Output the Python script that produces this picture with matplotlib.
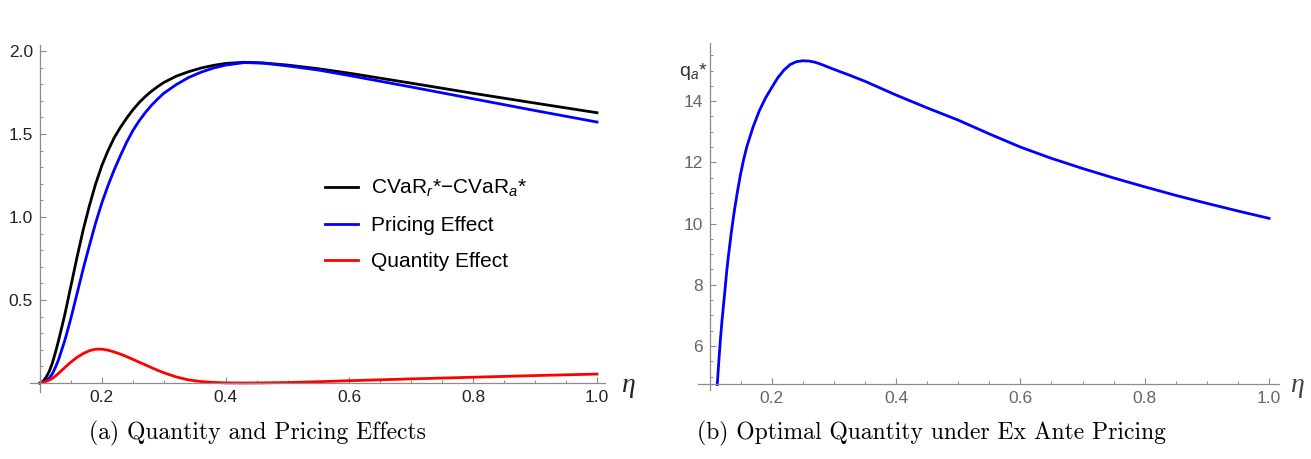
import matplotlib
matplotlib.use("Agg")
import matplotlib.pyplot as plt
from matplotlib.ticker import MultipleLocator, FixedLocator
from matplotlib.lines import Line2D

# ---------------- data ----------------
eta_a = [0.10, 0.105, 0.11, 0.115, 0.12, 0.125, 0.13, 0.14, 0.15, 0.16, 0.17, 0.18, 0.19,
         0.20, 0.21, 0.22, 0.23, 0.24, 0.25, 0.26, 0.27, 0.28, 0.29, 0.30, 0.32, 0.34,
         0.36, 0.38, 0.40, 0.43, 0.46, 0.50, 0.55, 0.60, 0.70, 0.80, 0.90, 1.00]
cvar_diff = [0.0, 0.01, 0.035, 0.07, 0.12, 0.185, 0.255, 0.41, 0.585, 0.76, 0.925, 1.07, 1.2,
             1.31, 1.40, 1.478, 1.54, 1.595, 1.645, 1.688, 1.725, 1.757, 1.785, 1.81, 1.848, 1.875,
             1.897, 1.913, 1.925, 1.932, 1.928, 1.915, 1.893, 1.866, 1.806, 1.745, 1.686, 1.628]
pricing_effect = [0.0, 0.005, 0.015, 0.03, 0.055, 0.095, 0.14, 0.255, 0.39, 0.54, 0.69, 0.83, 0.965,
                  1.085, 1.19, 1.285, 1.37, 1.45, 1.52, 1.578, 1.628, 1.672, 1.71, 1.745, 1.797, 1.84,
                  1.872, 1.897, 1.915, 1.93, 1.927, 1.91, 1.885, 1.852, 1.783, 1.712, 1.641, 1.572]
quantity_effect = [0.0, 0.004, 0.01, 0.018, 0.028, 0.042, 0.058, 0.093, 0.126, 0.155, 0.178, 0.195, 0.204,
                   0.204, 0.198, 0.187, 0.174, 0.159, 0.143, 0.126, 0.11, 0.093, 0.077, 0.062, 0.037, 0.019,
                   0.009, 0.004, 0.001, 0.0, 0.001, 0.003, 0.008, 0.014, 0.025, 0.035, 0.045, 0.054]

eta_b = [0.1125, 0.115, 0.1175, 0.12, 0.1225, 0.125, 0.1275, 0.13, 0.135, 0.14, 0.145, 0.15,
         0.155, 0.16, 0.17, 0.18, 0.19, 0.20, 0.21, 0.22, 0.23, 0.24, 0.25, 0.26, 0.27, 0.28,
         0.29, 0.30, 0.325, 0.35, 0.40, 0.45, 0.50, 0.55, 0.60, 0.65, 0.70, 0.75, 0.80, 0.85,
         0.90, 0.95, 1.00]
q_a = [4.74, 5.5, 6.2, 6.8, 7.33, 7.85, 8.4, 8.87, 9.7, 10.42, 11.05, 11.62,
       12.1, 12.51, 13.15, 13.68, 14.1, 14.44, 14.77, 15.02, 15.2, 15.29, 15.32, 15.31, 15.27, 15.2,
       15.12, 15.04, 14.85, 14.65, 14.2, 13.78, 13.38, 12.93, 12.5, 12.13, 11.8, 11.49, 11.2, 10.92,
       10.66, 10.41, 10.17]

legend_labels = ["CVaR$_r$*\u2212CVaR$_a$*", "Pricing Effect", "Quantity Effect"]
xticks = [0.2, 0.4, 0.6, 0.8, 1.0]
yticks_a = [0.5, 1.0, 1.5, 2.0]
yticks_b = [6, 8, 10, 12, 14]
caption_a = "(a) Quantity and Pricing Effects"
caption_b = "(b) Optimal Quantity under Ex Ante Pricing"

# ---------------- style ----------------
plt.rcParams["font.family"] = ["Liberation Sans", "DejaVu Sans"]
plt.rcParams["mathtext.fontset"] = "custom"
plt.rcParams["mathtext.rm"] = "Liberation Sans"
plt.rcParams["mathtext.it"] = "Liberation Sans:italic"

W, H = 1311, 459
fig = plt.figure(figsize=(W / 100, H / 100), dpi=100)


def box(l, t, r, b):
    return [l / W, (H - b) / H, (r - l) / W, (b - t) / H]


axis_col = "#8c8c8c"


def style_axis(ax, labelcol, origin_x, origin_y):
    for s in ["top", "right"]:
        ax.spines[s].set_visible(False)
    ax.spines["left"].set_position(("data", origin_x))
    ax.spines["bottom"].set_position(("data", origin_y))
    for s in ["left", "bottom"]:
        ax.spines[s].set_color(axis_col)
        ax.spines[s].set_linewidth(0.9)
    ax.tick_params(which="major", direction="in", length=4.5, width=0.8,
                   color=axis_col, labelsize=12.5, pad=5, labelcolor=labelcol)
    ax.tick_params(which="minor", direction="in", length=2.5, width=0.7,
                   color=axis_col)
    ax.set_facecolor("none")


# ---- panel (a) ----
ax1 = fig.add_axes(box(30, 45, 605, 392))
ax1.plot(eta_a, cvar_diff, color="black", lw=2.0)
ax1.plot(eta_a, pricing_effect, color="#0000ff", lw=2.0)
ax1.plot(eta_a, quantity_effect, color="#ff0000", lw=2.0)
ax1.set_xlim(0.0839, 1.0129)
ax1.set_ylim(-0.054, 2.036)
style_axis(ax1, "#222222", 0.1, 0.0)
ax1.xaxis.set_major_locator(FixedLocator(xticks))
ax1.xaxis.set_minor_locator(MultipleLocator(0.05))
ax1.yaxis.set_major_locator(FixedLocator(yticks_a))
ax1.yaxis.set_minor_locator(MultipleLocator(0.1))
ax1.set_xticklabels([f"{v:.1f}" for v in xticks])
ax1.set_yticklabels([f"{v:.1f}" for v in yticks_a])

handles = [Line2D([], [], color=c, lw=2.0) for c in ["black", "#0000ff", "#ff0000"]]
ax1.legend(handles, legend_labels, loc="upper left",
           bbox_to_anchor=(325 / W, 1 - 178 / H), bbox_transform=fig.transFigure,
           frameon=False, fontsize=15, handlelength=1.6, handletextpad=0.6,
           labelspacing=0.82, borderpad=0, borderaxespad=0)

fig.text(628 / W, 1 - 386 / H, "\u03b7", family="Liberation Serif", style="italic",
         fontsize=20, ha="center", va="center", color="#222222")

# ---- panel (b) ----
ax2 = fig.add_axes(box(698, 43, 1279, 390))
ax2.plot(eta_b, q_a, color="#0000ff", lw=2.0)
ax2.set_xlim(0.0815, 1.016)
ax2.set_ylim(4.56, 15.9)
style_axis(ax2, "#666666", 0.1, 4.75)
ax2.xaxis.set_major_locator(FixedLocator(xticks))
ax2.xaxis.set_minor_locator(MultipleLocator(0.05))
ax2.yaxis.set_major_locator(FixedLocator(yticks_b))
ax2.yaxis.set_minor_locator(MultipleLocator(0.5))
ax2.set_xticklabels([f"{v:.1f}" for v in xticks])
ax2.set_yticklabels([str(v) for v in yticks_b])

fig.text(1297 / W, 1 - 386 / H, "\u03b7", family="Liberation Serif", style="italic",
         fontsize=20, ha="center", va="center", color="#444444")
fig.text(693 / W, 1 - 71 / H, "q$_a$*", fontsize=14, ha="center", va="center",
         color="#333333")

# ---- captions ----
fig.text(257 / W, 1 - 433 / H, caption_a, family="cmr10", fontsize=17,
         ha="center", va="center")
fig.text(931 / W, 1 - 433 / H, caption_b, family="cmr10", fontsize=17,
         ha="center", va="center")

fig.savefig("out.png", dpi=100)
